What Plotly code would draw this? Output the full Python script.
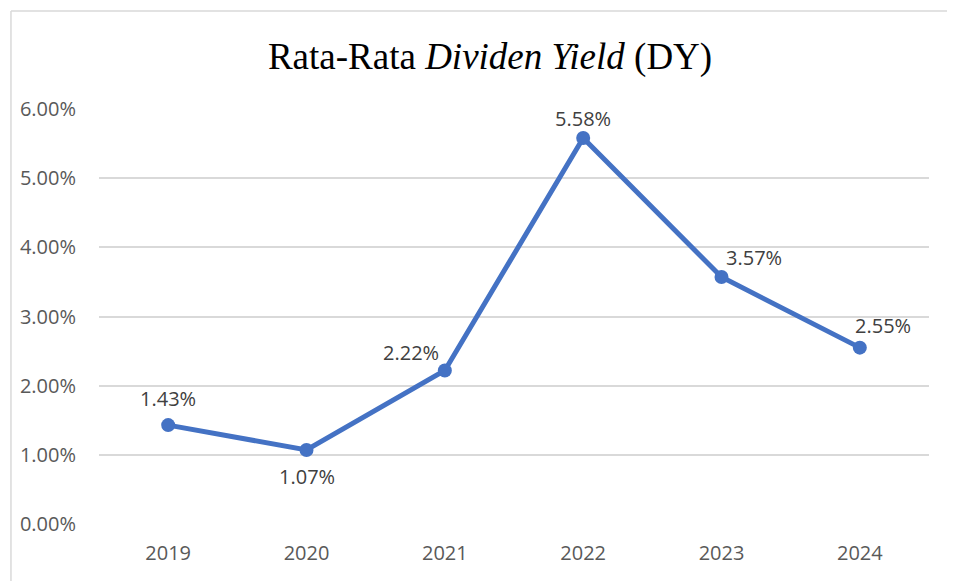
import plotly.graph_objects as go

years = ["2019", "2020", "2021", "2022", "2023", "2024"]
dy_values = [0.0143, 0.0107, 0.0222, 0.0558, 0.0357, 0.0255]
label_texts = ["1.43%", "1.07%", "2.22%", "5.58%", "3.57%", "2.55%"]
y_ticks = [0.0, 0.01, 0.02, 0.03, 0.04, 0.05, 0.06]
y_tick_labels = ["0.00%", "1.00%", "2.00%", "3.00%", "4.00%", "5.00%", "6.00%"]

# label offsets in pixels (style)
label_dx = [0, 0, -34, 0, 32, 23]
label_dy = [27, -27, 18, 20, 20, 22]

LINE = "#4472C4"
SANS = "Open Sans, sans-serif"
OFF = 8  # page body margin

W, H = 955, 581
ml, mr, mt, mb = 97 - OFF, 26 + OFF, 109 - OFF, 57 + OFF
pw, ph = W - ml - mr, H - mt - mb

def px_to_paper_x(px):
    return (px - ml) / pw

def px_to_paper_y(py):
    return (H - mb - py) / ph

fig = go.Figure()
fig.add_trace(go.Scatter(
    x=years, y=dy_values, mode="lines+markers",
    line=dict(color=LINE, width=5),
    marker=dict(color=LINE, size=14),
    hoverinfo="skip", showlegend=False,
))

annotations = []
for i, (y, t, dx, dyy) in enumerate(zip(dy_values, label_texts, label_dx, label_dy)):
    annotations.append(dict(
        x=i, y=y, xref="x", yref="y", text=t, showarrow=False,
        xshift=dx, yshift=dyy, xanchor="center", yanchor="middle",
        font=dict(family=SANS, size=20, color="#404040"),
    ))

fig.update_layout(
    width=W, height=H,
    margin=dict(l=ml, r=mr, t=mt, b=mb),
    paper_bgcolor="white", plot_bgcolor="white",
    title=dict(
        text="Rata-Rata <i>Dividen Yield</i> (DY)",
        x=px_to_paper_x(489 - OFF), xref="paper", xanchor="center",
        y=(H - (56 - OFF)) / H, yref="container", yanchor="middle",
        font=dict(family="Liberation Serif, serif", size=37, color="#000000"),
    ),
    xaxis=dict(
        type="category", range=[-0.5, 5.5],
        showgrid=False, zeroline=False, showline=False, ticks="",
        tickfont=dict(family=SANS, size=20, color="#595959"),
        ticklabelstandoff=15,
    ),
    yaxis=dict(
        range=[0, 0.06], tickvals=y_ticks, ticktext=y_tick_labels,
        showgrid=True, gridcolor="#D9D9D9", gridwidth=1.5,
        zeroline=False, showline=False, ticks="",
        tickfont=dict(family=SANS, size=20, color="#595959"),
        ticklabelstandoff=22,
    ),
    annotations=annotations,
    shapes=[
        dict(type="line", xref="paper", yref="paper",
             x0=px_to_paper_x(0.75), x1=px_to_paper_x(W + 10),
             y0=px_to_paper_y(11 - OFF), y1=px_to_paper_y(11 - OFF),
             line=dict(color="#D9D9D9", width=1.5), layer="below"),
        dict(type="line", xref="paper", yref="paper",
             x0=px_to_paper_x(0.75), x1=px_to_paper_x(0.75),
             y0=px_to_paper_y(11 - OFF), y1=px_to_paper_y(H + 10),
             line=dict(color="#D9D9D9", width=1.5), layer="below"),
    ],
)

fig.write_html("out.html")
